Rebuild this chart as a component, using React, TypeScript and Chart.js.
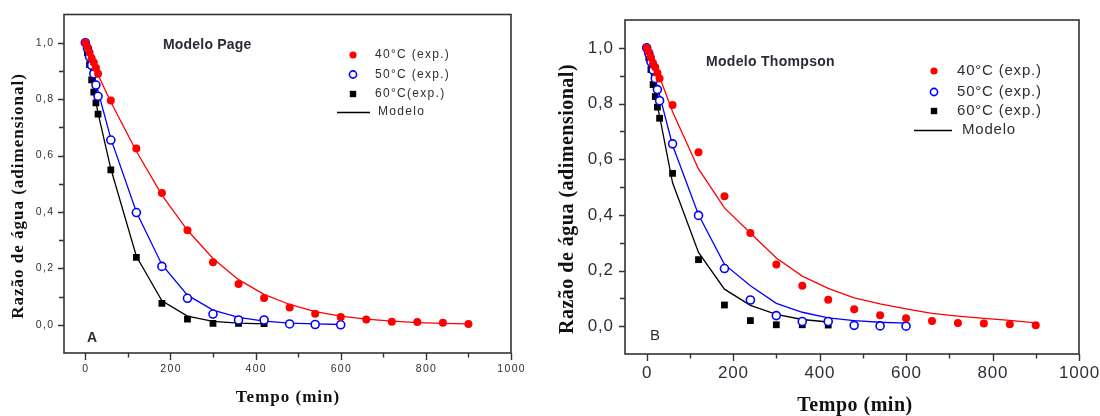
import React, { useEffect, useRef } from 'react';
import { Chart, registerables } from 'chart.js';

Chart.register(...registerables);

// ---- data (min) ----
const time40 = [0, 5, 10, 15, 20, 25, 30, 60, 120, 180, 240, 300, 360, 420, 480, 540, 600, 660, 720, 780, 840, 900];
const time50 = [0, 5, 10, 15, 20, 25, 30, 60, 120, 180, 240, 300, 360, 420, 480, 540, 600];
const time60 = [0, 5, 10, 15, 20, 25, 30, 60, 120, 180, 240, 300, 360, 420];

// experimental moisture ratio
const exp40 = [1.0, 0.985, 0.965, 0.945, 0.93, 0.91, 0.89, 0.795, 0.625, 0.467, 0.335, 0.222, 0.145, 0.095, 0.061, 0.039, 0.028, 0.019, 0.011, 0.01, 0.007, 0.003];
const exp50 = [1.0, 0.98, 0.95, 0.92, 0.89, 0.85, 0.81, 0.655, 0.398, 0.207, 0.094, 0.038, 0.017, 0.017, 0.003, 0.001, 0.0];
const exp60 = [1.0, 0.965, 0.922, 0.868, 0.825, 0.787, 0.747, 0.549, 0.239, 0.076, 0.02, 0.005, 0.005, 0.004];

// Page model (panel A)
const page40 = [1.0, 0.985, 0.966, 0.946, 0.926, 0.906, 0.886, 0.79, 0.615, 0.46, 0.335, 0.235, 0.16, 0.108, 0.072, 0.047, 0.031, 0.02, 0.013, 0.008, 0.005, 0.003];
const page50 = [1.0, 0.98, 0.955, 0.925, 0.893, 0.86, 0.828, 0.66, 0.4, 0.213, 0.105, 0.052, 0.026, 0.013, 0.006, 0.003, 0.001];
const page60 = [1.0, 0.965, 0.925, 0.877, 0.832, 0.79, 0.75, 0.553, 0.243, 0.085, 0.031, 0.012, 0.006, 0.003];

// Thompson model (panel B)
const thompson40 = [1.0, 0.985, 0.967, 0.95, 0.932, 0.914, 0.895, 0.77, 0.565, 0.425, 0.335, 0.245, 0.18, 0.136, 0.102, 0.08, 0.062, 0.046, 0.036, 0.028, 0.021, 0.012];
const thompson50 = [1.0, 0.975, 0.948, 0.918, 0.888, 0.858, 0.83, 0.65, 0.4, 0.222, 0.145, 0.082, 0.05, 0.03, 0.02, 0.014, 0.011];
const thompson60 = [1.0, 0.96, 0.915, 0.87, 0.828, 0.79, 0.755, 0.515, 0.265, 0.133, 0.075, 0.042, 0.024, 0.015];

// ---- axes ----
const xMajorTicks = [0, 200, 400, 600, 800, 1000];
const xMinorTicks = [100, 300, 500, 700, 900];
const yMajorTicks = [0, 0.2, 0.4, 0.6, 0.8, 1.0];
const yMinorTicks = [0.1, 0.3, 0.5, 0.7, 0.9];
const xRange = [-50, 1000];
const yRange = [-0.1, 1.1];

const xTitle = 'Tempo (min)';
const yTitle = 'Razão de água (adimensional)';
const legendLabelsA = ['40°C (exp.)', '50°C (exp.)', '60°C(exp.)', 'Modelo'];
const legendLabelsB = ['40°C (exp.)', '50°C (exp.)', '60°C (exp.)', 'Modelo'];
const panelTitles = ['Modelo Page', 'Modelo Thompson'];
const panelLetters = ['A', 'B'];

const RED = '#ff0000';
const BLUE = '#0000ff';
const BLACK = '#000000';
const SANS = '"Liberation Sans", Arial, sans-serif';
const SERIF = '"Liberation Serif", "Times New Roman", serif';

const pts = (xs: number[], ys: number[]) => xs.map((x, i) => ({ x, y: ys[i] }));

type PanelCfg = {
  padding: { left: number; top: number; right: number; bottom: number };
  tickFontSize: number;
  tickSpacing: number;
  yLabelGap: number;
  xLabelY: number;
  yTitleX: number;
  yTitleY: number;
  yTitleFont: string;
  yTitleSpacing: number;
  xTitleX: number;
  xTitleY: number;
  xTitleFont: string;
  xTitleSpacing: number;
  legend: {
    markerX: number;
    rows: number[];
    textX: number;
    modelTextX: number;
    lineX0: number;
    lineX1: number;
    font: string;
    spacing: number;
    labels: string[];
  };
  title: { text: string; x: number; y: number; font: string; spacing: number };
  letter: { text: string; x: number; y: number; font: string };
};

function setSpacing(ctx: any, s: number) {
  if ('letterSpacing' in ctx) ctx.letterSpacing = s + 'px';
}

function drawMarker(ctx: CanvasRenderingContext2D, kind: number, x: number, y: number) {
  ctx.save();
  if (kind === 0) {
    ctx.fillStyle = RED;
    ctx.beginPath();
    ctx.arc(x, y, 3.6, 0, Math.PI * 2);
    ctx.fill();
  } else if (kind === 1) {
    ctx.fillStyle = '#ffffff';
    ctx.strokeStyle = BLUE;
    ctx.lineWidth = 1.6;
    ctx.beginPath();
    ctx.arc(x, y, 3.6, 0, Math.PI * 2);
    ctx.fill();
    ctx.stroke();
  } else {
    ctx.fillStyle = BLACK;
    ctx.fillRect(x - 3.2, y - 3.2, 6.4, 6.4);
  }
  ctx.restore();
}

function overlayPlugin(cfg: PanelCfg) {
  return {
    id: 'overlay',
    afterDraw(chart: any) {
      const ctx: CanvasRenderingContext2D = chart.ctx;
      const { left, right, top, bottom } = chart.chartArea;
      const xs = chart.scales.x;
      const ys = chart.scales.y;
      ctx.save();
      // frame
      ctx.strokeStyle = '#333333';
      ctx.lineWidth = 1.6;
      ctx.strokeRect(left, top, right - left, bottom - top);
      // ticks (outward)
      ctx.lineWidth = 1.4;
      ctx.beginPath();
      for (const v of xMajorTicks) {
        const px = Math.round(xs.getPixelForValue(v)) + 0.5;
        ctx.moveTo(px, bottom);
        ctx.lineTo(px, bottom + 7);
      }
      for (const v of xMinorTicks) {
        const px = Math.round(xs.getPixelForValue(v)) + 0.5;
        ctx.moveTo(px, bottom);
        ctx.lineTo(px, bottom + 4.5);
      }
      for (const v of yMajorTicks) {
        const py = Math.round(ys.getPixelForValue(v)) + 0.5;
        ctx.moveTo(left, py);
        ctx.lineTo(left - 6, py);
      }
      for (const v of yMinorTicks) {
        const py = Math.round(ys.getPixelForValue(v)) + 0.5;
        ctx.moveTo(left, py);
        ctx.lineTo(left - 5, py);
      }
      ctx.stroke();

      // tick labels
      ctx.fillStyle = '#2e2e3a';
      ctx.font = `${cfg.tickFontSize}px ${SANS}`;
      setSpacing(ctx, cfg.tickSpacing);
      ctx.textBaseline = 'middle';
      ctx.textAlign = 'center';
      for (const v of xMajorTicks) {
        ctx.fillText(String(v), xs.getPixelForValue(v) + cfg.tickSpacing / 2, cfg.xLabelY);
      }
      ctx.textAlign = 'right';
      for (const v of yMajorTicks) {
        ctx.fillText(v.toFixed(1).replace('.', ','), left - cfg.yLabelGap + cfg.tickSpacing, ys.getPixelForValue(v));
      }

      // axis titles
      ctx.fillStyle = '#111111';
      ctx.font = cfg.xTitleFont;
      setSpacing(ctx, cfg.xTitleSpacing);
      ctx.textAlign = 'center';
      ctx.textBaseline = 'alphabetic';
      ctx.fillText(xTitle, cfg.xTitleX, cfg.xTitleY);

      ctx.save();
      ctx.translate(cfg.yTitleX, cfg.yTitleY);
      ctx.rotate(-Math.PI / 2);
      ctx.font = cfg.yTitleFont;
      setSpacing(ctx, cfg.yTitleSpacing);
      ctx.textAlign = 'center';
      ctx.textBaseline = 'middle';
      ctx.fillText(yTitle, 0, 0);
      ctx.restore();

      // legend
      const lg = cfg.legend;
      for (let i = 0; i < 3; i++) drawMarker(ctx, i, lg.markerX, lg.rows[i]);
      ctx.strokeStyle = BLACK;
      ctx.lineWidth = 1.4;
      ctx.beginPath();
      ctx.moveTo(lg.lineX0, lg.rows[3] + 0.5);
      ctx.lineTo(lg.lineX1, lg.rows[3] + 0.5);
      ctx.stroke();
      ctx.fillStyle = '#2e2e3a';
      ctx.font = lg.font;
      setSpacing(ctx, lg.spacing);
      ctx.textAlign = 'left';
      ctx.textBaseline = 'middle';
      for (let i = 0; i < 3; i++) ctx.fillText(lg.labels[i], lg.textX, lg.rows[i]);
      ctx.fillText(lg.labels[3], lg.modelTextX, lg.rows[3]);

      // panel title and letter
      const t = cfg.title;
      ctx.font = t.font;
      setSpacing(ctx, t.spacing);
      ctx.fillStyle = '#2a2a36';
      ctx.textAlign = 'left';
      ctx.fillText(t.text, t.x, t.y);
      const L = cfg.letter;
      ctx.font = L.font;
      setSpacing(ctx, 0);
      ctx.fillText(L.text, L.x, L.y);
      ctx.restore();
    },
  };
}

function buildDatasets(m40: number[], m50: number[], m60: number[]) {
  const pointCommon = { showLine: false, borderWidth: 1.6 };
  const lineCommon = { showLine: true, pointRadius: 0, borderWidth: 1.3, tension: 0, fill: false };
  return [
    { ...pointCommon, label: '40', data: pts(time40, exp40), pointStyle: 'circle', pointRadius: 4, backgroundColor: RED, borderColor: RED, borderWidth: 0 },
    { ...pointCommon, label: '50', data: pts(time50, exp50), pointStyle: 'circle', pointRadius: 4, backgroundColor: '#ffffff', borderColor: BLUE },
    { ...pointCommon, label: '60', data: pts(time60, exp60), pointStyle: 'rect', pointRadius: 4.8, backgroundColor: BLACK, borderColor: BLACK, borderWidth: 0 },
    { ...lineCommon, label: 'm40', data: pts(time40, m40), borderColor: RED },
    { ...lineCommon, label: 'm50', data: pts(time50, m50), borderColor: BLUE },
    { ...lineCommon, label: 'm60', data: pts(time60, m60), borderColor: BLACK },
  ];
}

function Panel({ left, cfg, models }: { left: number; cfg: PanelCfg; models: number[][] }) {
  const ref = useRef<HTMLCanvasElement | null>(null);
  useEffect(() => {
    if (!ref.current) return;
    const chart = new Chart(ref.current, {
      type: 'scatter',
      data: { datasets: buildDatasets(models[0], models[1], models[2]) as any },
      options: {
        animation: false,
        responsive: false,
        devicePixelRatio: 1,
        layout: { padding: cfg.padding },
        plugins: { legend: { display: false }, tooltip: { enabled: false } },
        scales: {
          x: { type: 'linear', min: xRange[0], max: xRange[1], display: false },
          y: { type: 'linear', min: yRange[0], max: yRange[1], display: false },
        },
      } as any,
      plugins: [overlayPlugin(cfg)],
    });
    return () => chart.destroy();
  }, []);
  return (
    <canvas
      ref={ref}
      width={550}
      height={416}
      style={{ position: 'absolute', left, top: 0, width: 550, height: 416, display: 'block' }}
    />
  );
}

const cfgA: PanelCfg = {
  padding: { left: 64, top: 14.5, right: 39, bottom: 63 },
  tickFontSize: 10.5,
  tickSpacing: 1.3,
  yLabelGap: 11,
  xLabelY: 369,
  yTitleX: 19,
  yTitleY: 196,
  yTitleFont: `bold 17px ${SERIF}`,
  yTitleSpacing: 1,
  xTitleX: 288,
  xTitleY: 402,
  xTitleFont: `bold 17px ${SERIF}`,
  xTitleSpacing: 1,
  legend: {
    markerX: 353,
    rows: [55, 74.5, 94, 112],
    textX: 375,
    modelTextX: 378,
    lineX0: 337,
    lineX1: 370,
    font: `12px ${SANS}`,
    spacing: 1.3,
    labels: legendLabelsA,
  },
  title: { text: panelTitles[0], x: 163, y: 45, font: `bold 14px ${SANS}`, spacing: 0.2 },
  letter: { text: panelLetters[0], x: 87, y: 338, font: `bold 14px ${SANS}` },
};

const cfgB: PanelCfg = {
  padding: { left: 75, top: 20, right: 21, bottom: 62 },
  tickFontSize: 17,
  tickSpacing: 0.8,
  yLabelGap: 12,
  xLabelY: 373,
  yTitleX: 568,
  yTitleY: 199,
  yTitleFont: `bold 20px ${SERIF}`,
  yTitleSpacing: 0.5,
  xTitleX: 855,
  xTitleY: 411,
  xTitleFont: `bold 20px ${SERIF}`,
  xTitleSpacing: 0.5,
  legend: {
    markerX: 384,
    rows: [71, 92, 111, 130],
    textX: 407,
    modelTextX: 412,
    lineX0: 364,
    lineX1: 402,
    font: `15px ${SANS}`,
    spacing: 0.8,
    labels: legendLabelsB,
  },
  title: { text: panelTitles[1], x: 156, y: 62, font: `bold 14px ${SANS}`, spacing: 0.3 },
  letter: { text: panelLetters[1], x: 100, y: 336, font: `15px ${SANS}` },
};
// panel B positions are in its own canvas (offset 550)
cfgB.yTitleX = 568 - 550;
cfgB.xTitleX = 855 - 550;

export default function App() {
  return (
    <div style={{ position: 'absolute', left: 0, top: 0, width: 1100, height: 416, overflow: 'hidden', background: '#ffffff' }}>
      <Panel left={0} cfg={cfgA} models={[page40, page50, page60]} />
      <Panel left={550} cfg={cfgB} models={[thompson40, thompson50, thompson60]} />
    </div>
  );
}
